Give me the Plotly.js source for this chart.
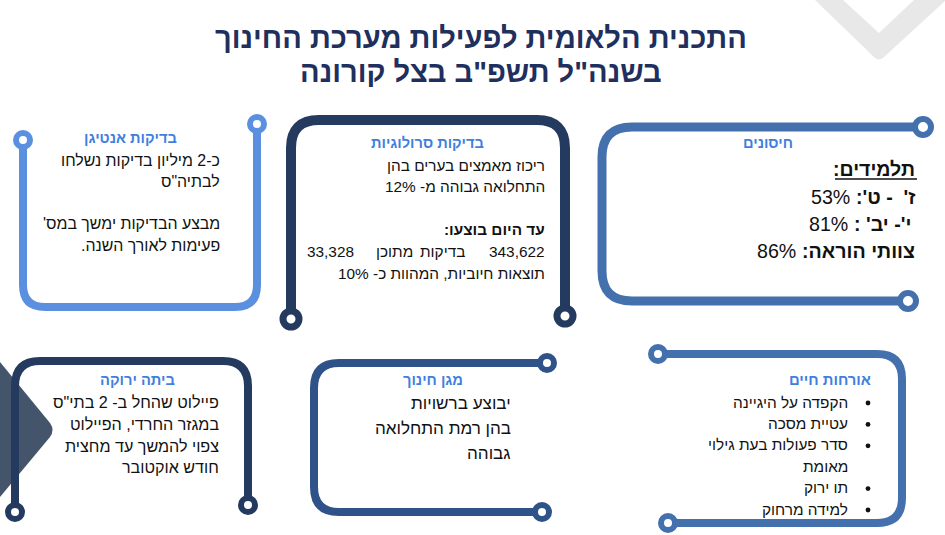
<!DOCTYPE html>
<html>
<head>
<meta charset="utf-8">
<script src="https://cdn.plot.ly/plotly-3.0.1.min.js"></script>
<style>html,body{margin:0;padding:0;background:#fff;}#chart{width:945px;height:535px;}</style>
</head>
<body>
<div id="chart"></div>
<script>
// ---------------- content (data) ----------------
const titleLines = ["התכנית הלאומית לפעילות מערכת החינוך", "בשנה\"ל תשפ\"ב בצל קורונה"];

const antigenTitle = "בדיקות אנטיגן";
const antigenLines = ["כ-2 מיליון בדיקות נשלחו", "לבתיה\"ס", "", "מבצע הבדיקות ימשך במס'", "פעימות לאורך השנה."];

const serologyTitle = "בדיקות סרולוגיות";
const serologyLines = ["ריכוז מאמצים בערים בהן", "התחלואה גבוהה מ- 12%"];
const serologyDoneLabel = "עד היום בוצעו:";
const serologyTestsTotal = "343,622";
const serologyWords = ["בדיקות", "מתוכן"];
const serologyPositives = "33,328";
const serologyLastLine = "תוצאות חיוביות, המהוות כ- 10%";

const vaccineTitle = "חיסונים";
const vaccineSubtitle = "תלמידים:";
const vaccineGroups = ["ז'  - ט':", "י'- יב' :", "צוותי הוראה:"];
const vaccineRates = ["53%", "81%", "86%"];

const greenTitle = "ביתה ירוקה";
const greenLines = ["פיילוט שהחל ב- 2 בתי\"ס", "במגזר החרדי, הפיילוט", "צפוי להמשך עד מחצית", "חודש אוקטובר"];

const shieldTitle = "מגן חינוך";
const shieldLines = ["יבוצע ברשויות", "בהן רמת התחלואה", "גבוהה"];

const routineTitle = "אורחות חיים";
const routineItems = ["הקפדה על היגיינה", "עטיית מסכה", "סדר פעולות בעת גילוי", "מאומת", "תו ירוק", "למידה מרחוק"];
const routineBullet = [true, true, true, false, true, true];

// ---------------- helpers ----------------
const RLM = "\u200F";
const rtl = s => RLM + s + RLM;
const FONT = "'Liberation Sans', Arial, 'DejaVu Sans', sans-serif";
const HEAD_BLUE = "#3f7fe0";
const TEXT = "#111111";

const shapes = [];
const annotations = [];
const groups = {};   // group name -> {members: [idx], ref: idx, target: px}
const pairs = [];    // [labelIdx, valueIdx] laid out after measuring

function roundedPath(pts, r) {
  let d = "M" + pts[0][0] + "," + pts[0][1];
  for (let i = 1; i < pts.length - 1; i++) {
    const p0 = pts[i - 1], p = pts[i], p1 = pts[i + 1];
    const d0x = Math.sign(p[0] - p0[0]), d0y = Math.sign(p[1] - p0[1]);
    const d1x = Math.sign(p1[0] - p[0]), d1y = Math.sign(p1[1] - p[1]);
    const a = [p[0] - d0x * r, p[1] - d0y * r];
    const b = [p[0] + d1x * r, p[1] + d1y * r];
    d += " L" + a[0] + "," + a[1] + " Q" + p[0] + "," + p[1] + " " + b[0] + "," + b[1];
  }
  const last = pts[pts.length - 1];
  d += " L" + last[0] + "," + last[1];
  return d;
}

function frame(pts, color, width, r, cr, cw) {
  shapes.push({type: "path", xref: "x", yref: "y", path: roundedPath(pts, r),
    line: {color: color, width: width}, fillcolor: "rgba(0,0,0,0)"});
  [pts[0], pts[pts.length - 1]].forEach(c => {
    shapes.push({type: "circle", xref: "x", yref: "y",
      x0: c[0] - cr, x1: c[0] + cr, y0: c[1] - cr, y1: c[1] + cr,
      line: {color: color, width: cw}, fillcolor: "#ffffff"});
  });
}

function dot(x, y, r, color) {
  shapes.push({type: "circle", xref: "x", yref: "y",
    x0: x - r, x1: x + r, y0: y - r, y1: y + r,
    line: {width: 0}, fillcolor: color});
}

function txt(x, y, s, opt) {
  opt = opt || {};
  const idx = annotations.length;
  annotations.push({
    xref: "x", yref: "y", x: x, y: y, text: rtl(s), showarrow: false,
    xanchor: opt.anchor || "right", yanchor: "middle", align: "right",
    font: {family: FONT, size: opt.size || 15, color: opt.color || TEXT,
           weight: opt.bold ? 700 : 400}
  });
  if (opt.group) {
    const g = groups[opt.group] || (groups[opt.group] = {members: []});
    g.members.push(idx);
    if (opt.fit) { g.ref = idx; g.target = opt.fit; }
  }
  return idx;
}

// ---------------- decorative ----------------
shapes.push({type: "path", xref: "x", yref: "y",
  path: "M815,0 L843,0 L879,33 L914,0 L945,0 L945,1 L884,57 Q879,62 874,57 Z",
  fillcolor: "#e8e8e8", line: {width: 0}});
shapes.push({type: "path", xref: "x", yref: "y",
  path: "M0,362 L50,423 Q55,430 50,437 L0,497 Z",
  fillcolor: "#44546a", line: {width: 0}});

// ---------------- frames ----------------
frame([[23, 140], [23, 307], [257, 307], [257, 124]], "#5b8fe0", 8, 22, 7, 6);      // antigen
frame([[291, 319], [291, 120], [565, 120], [565, 316]], "#243a5e", 10, 28, 8, 7);  // serology
frame([[923, 127], [602, 127], [602, 301], [908, 301]], "#4570ae", 9, 30, 8, 6);   // vaccines
frame([[15, 512], [15, 361], [248, 361], [248, 505]], "#243a5e", 8, 25, 7, 6);     // green class
frame([[547, 363], [314, 363], [314, 512], [542, 512]], "#2f5289", 8, 25, 7, 6);   // shield
frame([[658, 354], [902, 354], [902, 523], [668, 523]], "#4570ae", 8, 25, 7, 6);   // routine

// ---------------- title ----------------
titleLines.forEach((s, i) => txt(481, 38 + i * 34, s,
  {anchor: "center", size: 27, bold: true, color: "#1f2f5e", group: "title", fit: i === 0 ? 532 : 0}));

// headings
txt(130, 138, antigenTitle, {anchor: "center", size: 14, bold: true, color: HEAD_BLUE, group: "h1", fit: 93});
txt(427, 143, serologyTitle, {anchor: "center", size: 14, bold: true, color: HEAD_BLUE, group: "h2", fit: 113});
txt(768, 143, vaccineTitle, {anchor: "center", size: 14, bold: true, color: HEAD_BLUE, group: "h3", fit: 50});
txt(137, 380, greenTitle, {anchor: "center", size: 14, bold: true, color: HEAD_BLUE, group: "h4", fit: 75});
txt(433, 380, shieldTitle, {anchor: "center", size: 14, bold: true, color: HEAD_BLUE, group: "h5", fit: 60});
txt(873, 380, routineTitle, {size: 15, bold: true, color: HEAD_BLUE, group: "h6", fit: 82});

// antigen
antigenLines.forEach((s, i) => { if (s) txt(222, 160 + i * 21.3, s, {group: "b1", fit: i === 0 ? 159 : 0}); });

// serology
serologyLines.forEach((s, i) => txt(547, 165 + i * 21.6, s, {group: "b2", fit: i === 0 ? 158 : 0}));
txt(547, 229, serologyDoneLabel, {bold: true, group: "b2"});
txt(547, 251, serologyTestsTotal, {group: "b2"});
txt(467, 251, serologyWords[0], {group: "b2"});
txt(415, 251, serologyWords[1], {group: "b2"});
txt(305, 251, serologyPositives, {anchor: "left", group: "b2"});
txt(547, 273, serologyLastLine, {group: "b2"});

// vaccines
txt(917, 169, vaccineSubtitle, {size: 20, bold: true, group: "b3s", fit: 82});
shapes.push({type: "line", xref: "x", yref: "y", x0: 835, x1: 917, y0: 179, y1: 179,
  line: {color: TEXT, width: 1.6}});
vaccineGroups.forEach((g, i) => {
  const y = 197 + i * 27;
  const xr = i === 1 ? 913 : 917;
  const a = txt(xr, y, g, {size: 19, bold: true, group: "b3", fit: i === 2 ? 113 : 0});
  const b = txt(xr - 110, y, vaccineRates[i], {size: 19, group: "b3"});
  pairs.push([a, b]);
});

// green class
greenLines.forEach((s, i) => txt(221, 402 + i * 21.8, s, {size: 15.5, group: "b4", fit: i === 0 ? 166 : 0}));

// shield
shieldLines.forEach((s, i) => txt(513, 403 + i * 25, s, {size: 17, group: "b5", fit: i === 1 ? 136 : 0}));

// routine
routineItems.forEach((s, i) => {
  const y = 402 + i * 21.4;
  txt(850, y, s, {group: "b6", fit: i === 2 ? 140 : 0});
  if (routineBullet[i]) dot(868, y + 1, 2.4, TEXT);
});

const layout = {
  width: 945, height: 535,
  margin: {l: 0, r: 0, t: 0, b: 0, pad: 0},
  paper_bgcolor: "#ffffff", plot_bgcolor: "#ffffff",
  xaxis: {range: [0, 945], visible: false, fixedrange: true},
  yaxis: {range: [535, 0], visible: false, fixedrange: true},
  showlegend: false,
  shapes: shapes,
  annotations: annotations
};

function nodeMap(gd) {
  const nodes = {};
  gd.querySelectorAll("g.annotation").forEach(n => { nodes[+n.getAttribute("data-index")] = n; });
  return nodes;
}
function widthOf(nodes, i) {
  const n = nodes[i];
  const t = n && n.querySelector("text.annotation-text");
  return t ? t.getBBox().width : 0;
}

Plotly.newPlot("chart", [], layout, {staticPlot: true, displayModeBar: false}).then(gd => {
  const update = {};
  const nodes = nodeMap(gd);
  Object.keys(groups).forEach(k => {
    const g = groups[k];
    if (g.ref === undefined) return;
    const w = widthOf(nodes, g.ref);
    if (!w) return;
    const scale = Math.max(0.6, Math.min(1.6, g.target / w));
    g.members.forEach(i => {
      update["annotations[" + i + "].font.size"] = +(annotations[i].font.size * scale).toFixed(2);
    });
  });
  return Plotly.relayout(gd, update);
}).then(gd => {
  const nodes = nodeMap(gd);
  const update = {};
  pairs.forEach(([a, b]) => {
    const w = widthOf(nodes, a);
    const size = gd.layout.annotations[b].font.size;
    update["annotations[" + b + "].x"] = annotations[a].x - w - size * 0.3;
  });
  return Plotly.relayout(gd, update);
});
</script>
</body>
</html>
